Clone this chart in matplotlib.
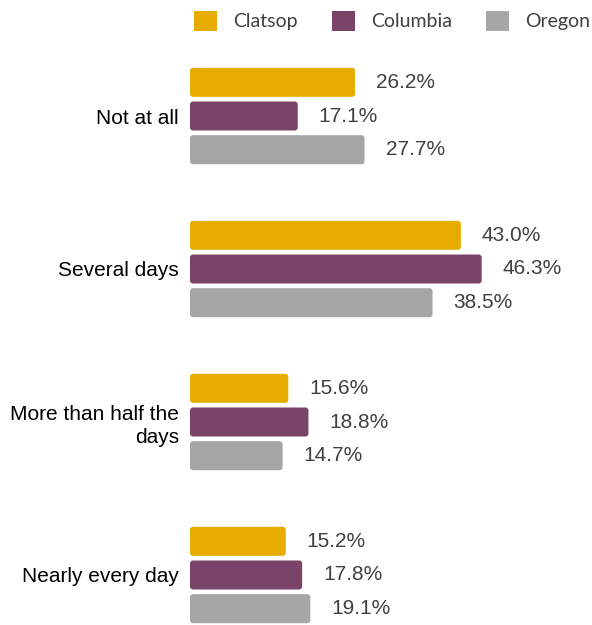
import matplotlib
matplotlib.use("Agg")
import matplotlib.pyplot as plt
from matplotlib.patches import FancyBboxPatch, Patch
import numpy as np

categories = ["Not at all", "Several days", "More than half the\ndays", "Nearly every day"]
series_names = ["Clatsop", "Columbia", "Oregon"]
clatsop = [26.2, 43.0, 15.6, 15.2]
columbia = [17.1, 46.3, 18.8, 17.8]
oregon = [27.7, 38.5, 14.7, 19.1]
colors = ["#E6AC00", "#7A4468", "#A6A6A6"]

W, H = 592, 625
fig = plt.figure(figsize=(W / 100, H / 100), dpi=100)

# axes placed in pixel terms: left edge at 190 px, top at ~39.5 px
left_px, top_px = 190, 39.5
ax = fig.add_axes([left_px / W, 0, (W - left_px) / W, (H - top_px) / H])

px_per_unit_y = 153.0
px_per_pct = 6.3
ax.set_xlim(0, (W - left_px) / px_per_pct)
ax.set_ylim(-0.5 + (H - top_px) / px_per_unit_y, -0.5)

y = np.arange(len(categories))
offset = 33.7 / px_per_unit_y
bar_h = 29.0 / px_per_unit_y
values = [clatsop, columbia, oregon]

for i, (name, vals, col) in enumerate(zip(series_names, values, colors)):
    ypos = y + (i - 1) * offset
    bars = ax.barh(ypos, vals, height=bar_h, color=col, label=name)
    for b, v in zip(bars, vals):
        b.set_visible(False)
        x0, y0 = b.get_x(), b.get_y()
        w, h = b.get_width(), b.get_height()
        rs = 3.0 / px_per_pct
        fb = FancyBboxPatch((x0, y0), w, h,
                            boxstyle=f"round,pad=0,rounding_size={rs}",
                            mutation_aspect=px_per_pct / px_per_unit_y,
                            facecolor=col, edgecolor="none")
        ax.add_patch(fb)
        ax.annotate(f"{v:.1f}%", xy=(v, b.get_y() + h / 2),
                    xytext=(21, 0), textcoords="offset pixels",
                    ha="left", va="center", fontsize=15,
                    family="Liberation Sans", color="#404040")

ax.set_yticks(y)
ax.set_yticklabels(categories, fontsize=15, family="Liberation Sans",
                   color="#000000", ha="right", linespacing=1.25)
ax.tick_params(axis="y", length=0, pad=8)
ax.set_xticks([])
for s in ax.spines.values():
    s.set_visible(False)

handles = [Patch(facecolor=c, edgecolor="none") for c in colors]
fig.legend(handles, series_names, loc="upper left",
           bbox_to_anchor=(186 / W, 1 - 3 / H), ncol=3, frameon=False,
           prop={"family": "Lato", "size": 14}, labelcolor="#404040",
           handlelength=1.2, handleheight=1.2, handletextpad=0.82,
           columnspacing=1.75, borderaxespad=0)

fig.savefig("out.png", dpi=100)
